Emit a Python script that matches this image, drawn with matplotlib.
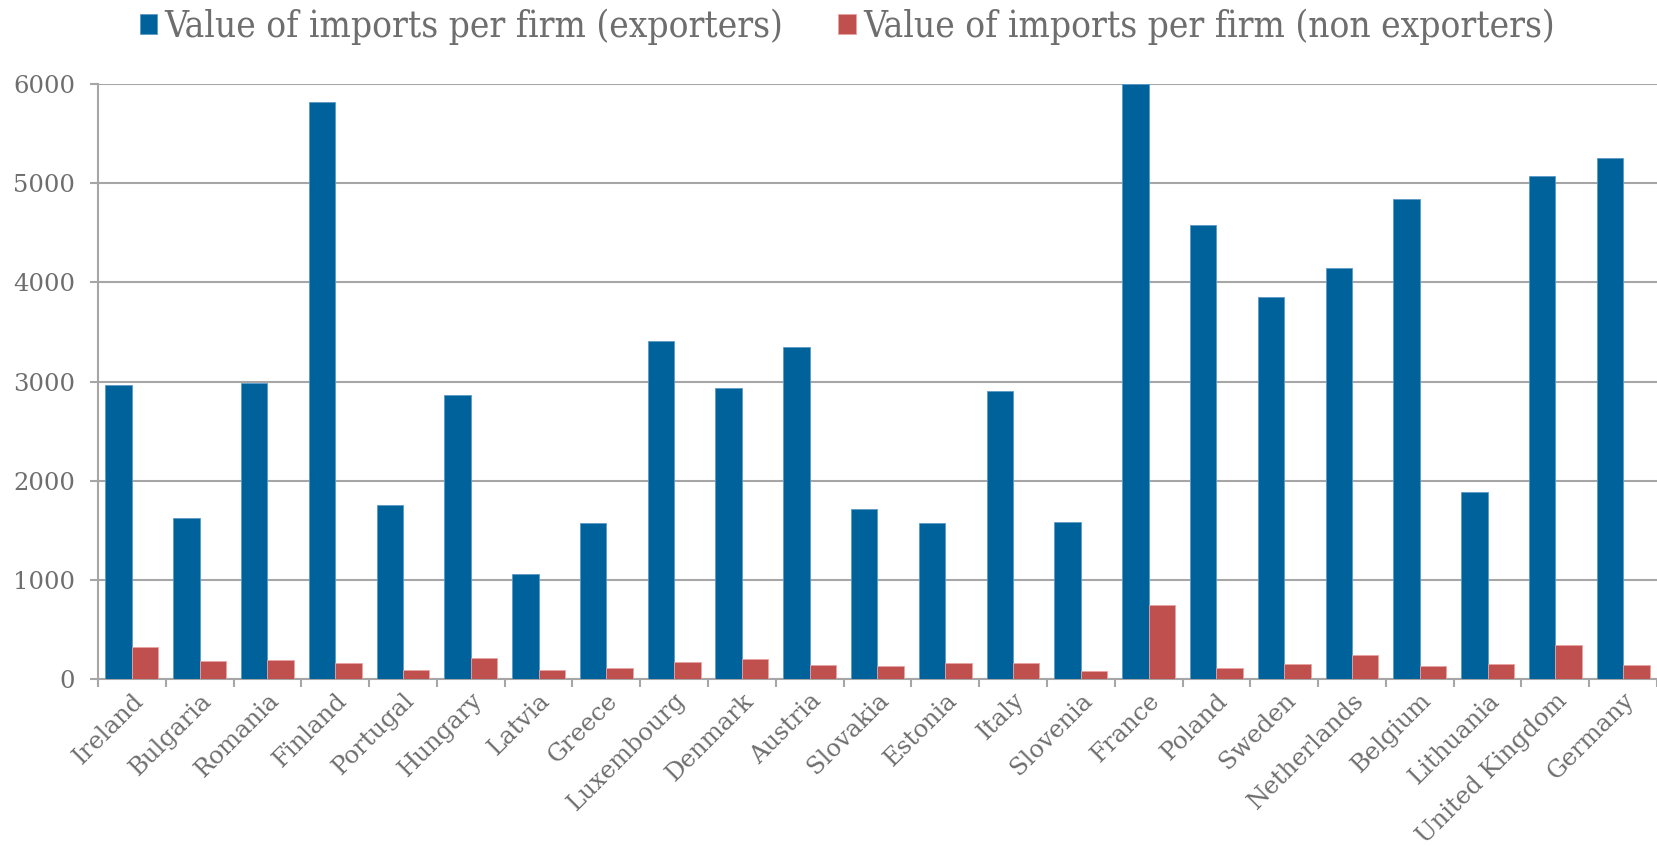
import numpy as np
import matplotlib.pyplot as plt

# Data
countries = ["Ireland", "Bulgaria", "Romania", "Finland", "Portugal", "Hungary",
             "Latvia", "Greece", "Luxembourg", "Denmark", "Austria", "Slovakia",
             "Estonia", "Italy", "Slovenia", "France", "Poland", "Sweden",
             "Netherlands", "Belgium", "Lithuania", "United Kingdom", "Germany"]
exporters = [2970, 1625, 2990, 5820, 1750, 2860, 1055, 1570, 3405, 2935, 3350, 1710,
             1570, 2905, 1580, 6000, 4580, 3855, 4145, 4845, 1890, 5070, 5250]  # France runs off the top
non_exporters = [320, 180, 190, 160, 95, 210, 95, 115, 170, 200, 140, 135,
                 165, 160, 85, 745, 115, 150, 245, 130, 150, 340, 140]

BLUE = "#00629B"
RED = "#C0504D"
GRID = "#A6A6A6"
TEXT = "#6E6E6E"

plt.rcParams['font.family'] = ['DejaVu Serif']

fig = plt.figure(figsize=(16.58, 8.47), dpi=100)
ax = fig.add_axes([0.0591, 0.1983, 0.9403, 0.7025])

x = np.arange(len(countries))
w = 0.39
b1 = ax.bar(x - w / 2, exporters, w, color=BLUE, edgecolor="#5A9BC8", linewidth=0.6,
            label="Value of imports per firm (exporters)", zorder=3)
b2 = ax.bar(x + w / 2, non_exporters, w, color=RED, edgecolor="#E8A3A1", linewidth=0.6,
            label="Value of imports per firm (non exporters)", zorder=3)

ax.set_xlim(-0.5, len(countries) - 0.5)
ax.set_ylim(0, 6000)
ax.set_yticks(range(0, 6001, 1000))
ax.yaxis.grid(True, color=GRID, linewidth=1.5, zorder=0)
ax.set_axisbelow(True)

ax.set_xticks(x)
ax.set_xticklabels(countries, rotation=45, ha="right", rotation_mode="anchor")
ax.set_xticks(np.arange(len(countries) + 1) - 0.5, minor=True)
ax.tick_params(axis="x", which="major", length=0, pad=7, labelsize=17.5, labelcolor=TEXT)
ax.tick_params(axis="x", which="minor", length=5.5, width=1.5, color=GRID, direction="out")
ax.tick_params(axis="y", length=5.5, width=1.5, color=GRID, labelsize=17.5, labelcolor=TEXT, pad=11)

for s in ["top", "right"]:
    ax.spines[s].set_visible(False)
for s in ["left", "bottom"]:
    ax.spines[s].set_color(GRID)
    ax.spines[s].set_linewidth(1.5)

fig.legend(handles=[b1, b2], loc="center", bbox_to_anchor=(0.511, 0.968), ncol=2,
           frameon=False, labelcolor=TEXT, handlelength=0.47, handleheight=0.47,
           handletextpad=0.2, columnspacing=1.5,
           prop={"family": "DejaVu Serif", "stretch": "condensed", "size": 26.5})

plt.savefig("out.png", dpi=100)
